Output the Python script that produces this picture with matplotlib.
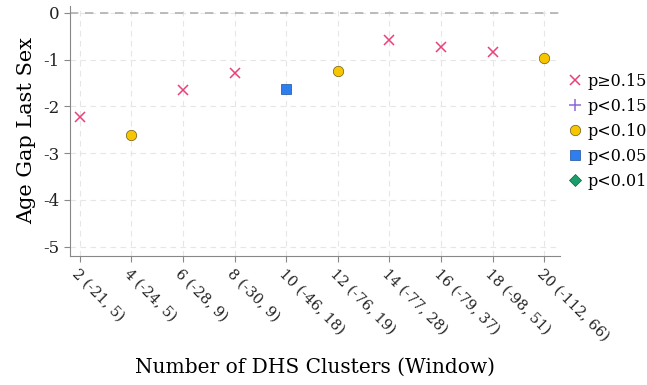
import matplotlib.pyplot as plt
from matplotlib.lines import Line2D

plt.rcParams['font.family'] = ['DejaVu Serif']
plt.rcParams['axes.unicode_minus'] = False

# cluster window and the estimated coefficient
clusters = [2, 4, 6, 8, 10, 12, 14, 16, 18, 20]
windows = ['(-21, 5)', '(-24, 5)', '(-28, 9)', '(-30, 9)', '(-46, 18)',
           '(-76, 19)', '(-77, 28)', '(-79, 37)', '(-98, 51)', '(-112, 66)']
coef = [-2.23, -2.62, -1.66, -1.28, -1.62, -1.24, -0.58, -0.73, -0.84, -0.97]
pgroup = ['p≥0.15', 'p<0.10', 'p≥0.15', 'p≥0.15', 'p<0.05',
          'p<0.10', 'p≥0.15', 'p≥0.15', 'p≥0.15', 'p<0.10']

styles = {
    'p≥0.15': dict(marker='x', color='#e8417b', ms=6.5, mew=1.1),
    'p<0.15': dict(marker='+', color='#8a6ad8', ms=8.5, mew=1.1),
    'p<0.10': dict(marker='o', color='#f7c600', ms=7.5, mec='#6a5a1a', mew=0.5),
    'p<0.05': dict(marker='s', color='#2d7ff0', ms=7, mec='#1d4f9a', mew=0.5),
    'p<0.01': dict(marker='D', color='#1b9e6e', ms=6.5, mec='#0f5f40', mew=0.5),
}

fig, ax = plt.subplots(figsize=(6.47, 3.85), dpi=100)
fig.subplots_adjust(left=0.108, right=0.865, top=0.985, bottom=0.335)

for x, y, g in zip(clusters, coef, pgroup):
    st = styles[g]
    ax.plot([x], [y], linestyle='none', zorder=3, **st)

ax.axhline(0, color='#b0b0b0', lw=1.2, ls=(0, (5, 4)), zorder=1)
ax.grid(True, color='#e6e6e6', lw=0.8, ls=(0, (5, 4)))
ax.set_axisbelow(True)

ax.set_xlim(1.62, 20.6)
ax.set_ylim(-5.2, 0.15)
ax.set_yticks([0, -1, -2, -3, -4, -5])
ax.set_xticks(clusters)
ax.set_xticklabels([f'{c} {w}' for c, w in zip(clusters, windows)],
                   rotation=-45, ha='left', rotation_mode='anchor')
ax.tick_params(labelsize=10.5, colors='#222222', length=4, color='#888888')
ax.tick_params(axis='y', labelsize=12)

for s in ['top', 'right']:
    ax.spines[s].set_visible(False)
for s in ['left', 'bottom']:
    ax.spines[s].set_color('#888888')

ax.set_ylabel('Age Gap Last Sex', fontsize=15, labelpad=5)
ax.set_xlabel('Number of DHS Clusters (Window)', fontsize=14.5, labelpad=10)

handles = [Line2D([], [], linestyle='none', **styles[k]) for k in styles]
ax.legend(handles, list(styles), loc='upper left', bbox_to_anchor=(0.995, 0.765),
          frameon=False, fontsize=11.5, handletextpad=0.2, labelspacing=0.5,
          handlelength=1.2, borderpad=0)

plt.savefig('out.png')
